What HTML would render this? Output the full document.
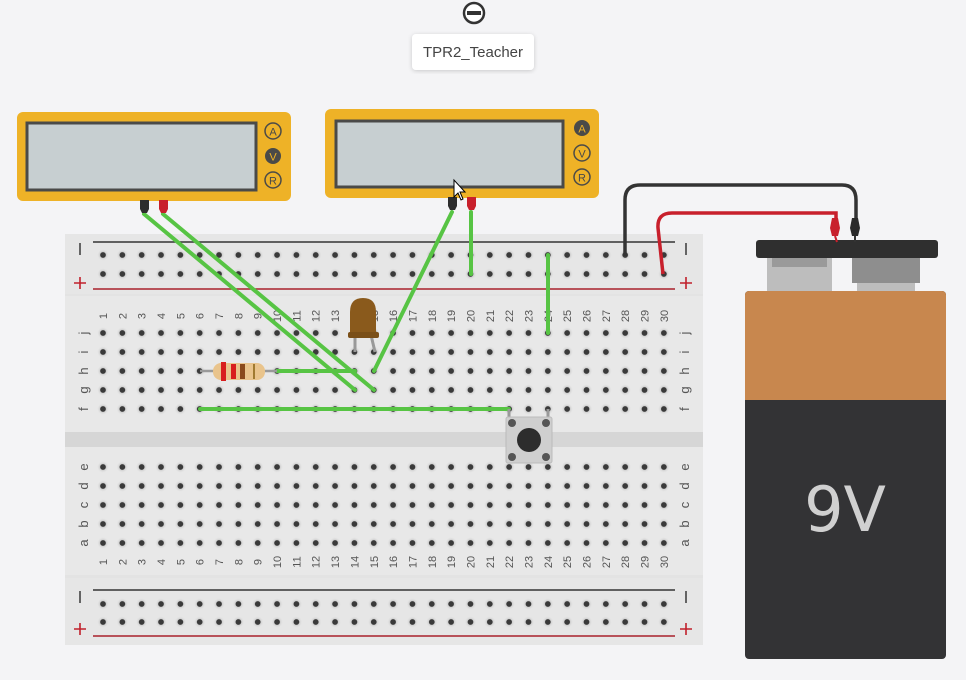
<!DOCTYPE html>
<html><head><meta charset="utf-8"><style>
html,body{margin:0;padding:0;background:#f4f4f6;}
svg{display:block;font-family:"Liberation Sans","DejaVu Sans",sans-serif;}
.n{font-size:11px;fill:#555;}
.l{font-size:13px;fill:#555;}
</style></head><body>
<svg width="966" height="680" viewBox="0 0 966 680" xmlns="http://www.w3.org/2000/svg">
<defs>
<radialGradient id="h"><stop offset="0.42" stop-color="#3a3a3a"/><stop offset="0.52" stop-color="#cfcfcf"/><stop offset="1" stop-color="#e4e4e4" stop-opacity="0"/></radialGradient>
<filter id="sh"><feDropShadow dx="0" dy="1" stdDeviation="2" flood-opacity="0.18"/></filter>
</defs>
<rect width="966" height="680" fill="#f4f4f6"/>

<!-- label -->
<circle cx="474" cy="13" r="10" fill="#fff" stroke="#333" stroke-width="2.5"/>
<rect x="467" y="11" width="14" height="4" fill="#333"/>
<rect x="412" y="34" width="122" height="36" rx="4" fill="#fff" filter="url(#sh)"/>
<text x="473" y="57" text-anchor="middle" font-size="15" fill="#444">TPR2_Teacher</text>

<!-- multimeter 1 -->
<rect x="17" y="112" width="274" height="89" rx="6" fill="#eeb227"/>
<rect x="27" y="123" width="229" height="67" fill="#c7cfd1" stroke="#4a4a48" stroke-width="3"/>
<circle cx="273" cy="131" r="8" fill="none" stroke="#4a4a48" stroke-width="1.5"/><text x="273" y="135.5" text-anchor="middle" font-size="11" fill="#4a4a48">A</text>
<circle cx="273" cy="156" r="8" fill="#4a4a48"/><text x="273" y="160.5" text-anchor="middle" font-size="11" fill="#eeb227">V</text>
<circle cx="273" cy="180" r="8" fill="none" stroke="#4a4a48" stroke-width="1.5"/><text x="273" y="184.5" text-anchor="middle" font-size="11" fill="#4a4a48">R</text>

<!-- multimeter 2 -->
<rect x="325" y="109" width="274" height="89" rx="6" fill="#eeb227"/>
<rect x="336" y="121" width="227" height="66" fill="#c7cfd1" stroke="#4a4a48" stroke-width="3"/>
<circle cx="582" cy="128" r="8" fill="#4a4a48"/><text x="582" y="132.5" text-anchor="middle" font-size="11" fill="#eeb227">A</text>
<circle cx="582" cy="153" r="8" fill="none" stroke="#4a4a48" stroke-width="1.5"/><text x="582" y="157.5" text-anchor="middle" font-size="11" fill="#4a4a48">V</text>
<circle cx="582" cy="177" r="8" fill="none" stroke="#4a4a48" stroke-width="1.5"/><text x="582" y="181.5" text-anchor="middle" font-size="11" fill="#4a4a48">R</text>

<!-- breadboard -->
<rect x="65" y="234" width="638" height="411" rx="4" fill="#e3e3e3"/>
<rect x="65" y="296" width="638" height="136" fill="#e8e8e8"/>
<rect x="65" y="432" width="638" height="15" fill="#d6d6d6"/>
<rect x="65" y="447" width="638" height="128" fill="#e8e8e8"/>
<rect x="65" y="234" width="638" height="60" fill="#e6e6e6"/>
<rect x="65" y="578" width="638" height="67" fill="#e6e6e6"/>
<line x1="93" y1="242" x2="675" y2="242" stroke="#333" stroke-width="1.5"/>
<line x1="93" y1="289" x2="675" y2="289" stroke="#a8202c" stroke-width="1.5"/>
<line x1="93" y1="590" x2="675" y2="590" stroke="#333" stroke-width="1.5"/>
<line x1="93" y1="636" x2="675" y2="636" stroke="#a8202c" stroke-width="1.5"/>
<g stroke-width="1.6">
<line x1="80" y1="243" x2="80" y2="255" stroke="#444"/>
<line x1="686" y1="243" x2="686" y2="255" stroke="#444"/>
<line x1="80" y1="591" x2="80" y2="603" stroke="#444"/>
<line x1="686" y1="591" x2="686" y2="603" stroke="#444"/>
<path d="M74 283 h12 M80 277 v12" stroke="#c0202c"/>
<path d="M680 283 h12 M686 277 v12" stroke="#c0202c"/>
<path d="M74 629 h12 M80 623 v12" stroke="#c0202c"/>
<path d="M680 629 h12 M686 623 v12" stroke="#c0202c"/>
</g>
<g id="holes"></g>
<g class="l" text-anchor="middle">
<text transform="translate(84,333) rotate(-90)" dy="4">j</text>
<text transform="translate(84,352) rotate(-90)" dy="4">i</text>
<text transform="translate(84,371) rotate(-90)" dy="4">h</text>
<text transform="translate(84,390) rotate(-90)" dy="4">g</text>
<text transform="translate(84,409) rotate(-90)" dy="4">f</text>
<text transform="translate(84,467) rotate(-90)" dy="4">e</text>
<text transform="translate(84,486) rotate(-90)" dy="4">d</text>
<text transform="translate(84,505) rotate(-90)" dy="4">c</text>
<text transform="translate(84,524) rotate(-90)" dy="4">b</text>
<text transform="translate(84,543) rotate(-90)" dy="4">a</text>
<text transform="translate(685,333) rotate(-90)" dy="4">j</text>
<text transform="translate(685,352) rotate(-90)" dy="4">i</text>
<text transform="translate(685,371) rotate(-90)" dy="4">h</text>
<text transform="translate(685,390) rotate(-90)" dy="4">g</text>
<text transform="translate(685,409) rotate(-90)" dy="4">f</text>
<text transform="translate(685,467) rotate(-90)" dy="4">e</text>
<text transform="translate(685,486) rotate(-90)" dy="4">d</text>
<text transform="translate(685,505) rotate(-90)" dy="4">c</text>
<text transform="translate(685,524) rotate(-90)" dy="4">b</text>
<text transform="translate(685,543) rotate(-90)" dy="4">a</text>
</g>
<g class="n" text-anchor="middle">
<text transform="translate(103,316) rotate(-90)" dy="4">1</text><text transform="translate(122.3,316) rotate(-90)" dy="4">2</text><text transform="translate(141.7,316) rotate(-90)" dy="4">3</text><text transform="translate(161,316) rotate(-90)" dy="4">4</text><text transform="translate(180.4,316) rotate(-90)" dy="4">5</text><text transform="translate(199.7,316) rotate(-90)" dy="4">6</text><text transform="translate(219,316) rotate(-90)" dy="4">7</text><text transform="translate(238.4,316) rotate(-90)" dy="4">8</text><text transform="translate(257.7,316) rotate(-90)" dy="4">9</text><text transform="translate(277.1,316) rotate(-90)" dy="4">10</text><text transform="translate(296.4,316) rotate(-90)" dy="4">11</text><text transform="translate(315.7,316) rotate(-90)" dy="4">12</text><text transform="translate(335.1,316) rotate(-90)" dy="4">13</text><text transform="translate(354.4,316) rotate(-90)" dy="4">14</text><text transform="translate(373.8,316) rotate(-90)" dy="4">15</text><text transform="translate(393.1,316) rotate(-90)" dy="4">16</text><text transform="translate(412.4,316) rotate(-90)" dy="4">17</text><text transform="translate(431.8,316) rotate(-90)" dy="4">18</text><text transform="translate(451.1,316) rotate(-90)" dy="4">19</text><text transform="translate(470.5,316) rotate(-90)" dy="4">20</text><text transform="translate(489.8,316) rotate(-90)" dy="4">21</text><text transform="translate(509.1,316) rotate(-90)" dy="4">22</text><text transform="translate(528.5,316) rotate(-90)" dy="4">23</text><text transform="translate(547.8,316) rotate(-90)" dy="4">24</text><text transform="translate(567.2,316) rotate(-90)" dy="4">25</text><text transform="translate(586.5,316) rotate(-90)" dy="4">26</text><text transform="translate(605.8,316) rotate(-90)" dy="4">27</text><text transform="translate(625.2,316) rotate(-90)" dy="4">28</text><text transform="translate(644.5,316) rotate(-90)" dy="4">29</text><text transform="translate(663.9,316) rotate(-90)" dy="4">30</text>
<text transform="translate(103,562) rotate(-90)" dy="4">1</text><text transform="translate(122.3,562) rotate(-90)" dy="4">2</text><text transform="translate(141.7,562) rotate(-90)" dy="4">3</text><text transform="translate(161,562) rotate(-90)" dy="4">4</text><text transform="translate(180.4,562) rotate(-90)" dy="4">5</text><text transform="translate(199.7,562) rotate(-90)" dy="4">6</text><text transform="translate(219,562) rotate(-90)" dy="4">7</text><text transform="translate(238.4,562) rotate(-90)" dy="4">8</text><text transform="translate(257.7,562) rotate(-90)" dy="4">9</text><text transform="translate(277.1,562) rotate(-90)" dy="4">10</text><text transform="translate(296.4,562) rotate(-90)" dy="4">11</text><text transform="translate(315.7,562) rotate(-90)" dy="4">12</text><text transform="translate(335.1,562) rotate(-90)" dy="4">13</text><text transform="translate(354.4,562) rotate(-90)" dy="4">14</text><text transform="translate(373.8,562) rotate(-90)" dy="4">15</text><text transform="translate(393.1,562) rotate(-90)" dy="4">16</text><text transform="translate(412.4,562) rotate(-90)" dy="4">17</text><text transform="translate(431.8,562) rotate(-90)" dy="4">18</text><text transform="translate(451.1,562) rotate(-90)" dy="4">19</text><text transform="translate(470.5,562) rotate(-90)" dy="4">20</text><text transform="translate(489.8,562) rotate(-90)" dy="4">21</text><text transform="translate(509.1,562) rotate(-90)" dy="4">22</text><text transform="translate(528.5,562) rotate(-90)" dy="4">23</text><text transform="translate(547.8,562) rotate(-90)" dy="4">24</text><text transform="translate(567.2,562) rotate(-90)" dy="4">25</text><text transform="translate(586.5,562) rotate(-90)" dy="4">26</text><text transform="translate(605.8,562) rotate(-90)" dy="4">27</text><text transform="translate(625.2,562) rotate(-90)" dy="4">28</text><text transform="translate(644.5,562) rotate(-90)" dy="4">29</text><text transform="translate(663.9,562) rotate(-90)" dy="4">30</text>
</g>

<!-- battery -->
<rect x="767" y="255" width="65" height="38" fill="#bdbdbd"/>
<rect x="772" y="255" width="55" height="12" fill="#9a9a9a"/>
<rect x="852" y="255" width="68" height="28" fill="#8e8e8e"/>
<rect x="857" y="283" width="58" height="10" fill="#bdbdbd"/>
<rect x="756" y="240" width="182" height="18" rx="3" fill="#2f2f2f"/>
<rect x="745" y="291" width="201" height="368" rx="4" fill="#333335"/>
<path d="M749 291 H942 A4 4 0 0 1 946 295 V400 H745 V295 A4 4 0 0 1 749 291Z" fill="#c8874e"/>
<text x="845" y="531" text-anchor="middle" font-size="62" fill="#d0d0d0" font-family="DejaVu Sans, sans-serif">9V</text>

<!-- battery wires -->
<path d="M625 256 V200 Q625 185 640 185 H842 Q856 185 856 200 V222" fill="none" stroke="#333" stroke-width="3.5"/>
<path d="M663 274 L658 228 Q657 213 672 213 H836 V222" fill="none" stroke="#c8202c" stroke-width="3.5"/>
<path d="M852 218 h6 l2 10 l-2 8 h-6 l-2 -8z" fill="#2a2a2a"/>
<path d="M832 218 h6 l2 10 l-2 8 h-6 l-2 -8z" fill="#c8202c"/>
<line x1="855" y1="236" x2="855" y2="242" stroke="#333" stroke-width="2"/>
<line x1="835" y1="236" x2="837" y2="242" stroke="#c8202c" stroke-width="2"/>

<!-- green wires -->
<g stroke="#57c444" stroke-width="4" stroke-linecap="round" fill="none">
<line x1="144" y1="214" x2="355" y2="390"/>
<line x1="163" y1="214" x2="374" y2="390"/>
<line x1="452" y1="212" x2="374" y2="371"/>
<line x1="471" y1="212" x2="471" y2="274"/>
<line x1="548" y1="255" x2="548" y2="333"/>
<line x1="277" y1="371" x2="355" y2="371"/>
<line x1="200" y1="409" x2="509" y2="409"/>
</g>
<!-- probes -->
<path d="M140 200 h9 v9 l-2 4 h-5 l-2 -4z" fill="#2d2d2d"/>
<path d="M159 200 h9 v9 l-2 4 h-5 l-2 -4z" fill="#c8202c"/>
<path d="M448 197 h9 v9 l-2 4 h-5 l-2 -4z" fill="#2d2d2d"/>
<path d="M467 197 h9 v9 l-2 4 h-5 l-2 -4z" fill="#c8202c"/>

<!-- resistor -->
<line x1="200" y1="371" x2="277" y2="371" stroke="#999" stroke-width="2.5"/>
<rect x="213" y="363" width="52" height="17" rx="8" fill="#e9c48c"/>
<rect x="221" y="362" width="5" height="19" fill="#d81e1e"/>
<rect x="231" y="364" width="5" height="15" fill="#d81e1e"/>
<rect x="240" y="364" width="5" height="15" fill="#8a4a1c"/>
<rect x="253" y="364" width="2" height="15" fill="#a07a30"/>

<!-- LED -->
<line x1="355" y1="335" x2="355" y2="352" stroke="#999" stroke-width="3"/>
<path d="M371 335 L375 352" stroke="#999" stroke-width="3"/>
<path d="M350 338 V312 Q350 298 363 298 Q376 298 376 312 V338Z" fill="#8a5a1c"/>
<rect x="348" y="332" width="31" height="6" rx="2" fill="#7a4f18"/>

<!-- button -->
<line x1="509" y1="409" x2="509" y2="420" stroke="#999" stroke-width="3"/>
<line x1="548" y1="409" x2="548" y2="420" stroke="#999" stroke-width="3"/>
<rect x="506" y="417" width="46" height="46" rx="2" fill="#cfcfcf" stroke="#bbb"/>
<circle cx="512" cy="423" r="4" fill="#555"/><circle cx="546" cy="423" r="4" fill="#555"/>
<circle cx="512" cy="457" r="4" fill="#555"/><circle cx="546" cy="457" r="4" fill="#555"/>
<circle cx="529" cy="440" r="12" fill="#2d2d2d"/>

<!-- cursor -->
<path d="M454 180 L454 197 L458 193 L461 200 L463 199 L460 192 L465 192 Z" fill="#fff" stroke="#000" stroke-width="1"/>
</svg>
<script>
var g=document.getElementById('holes'),s='';
function x(n){return 103+19.34*(n-1);}
var ry=[255,274,604,622,333,352,371,390,409,467,486,505,524,543];
for(var r=0;r<ry.length;r++)for(var c=1;c<=30;c++){
s+='<circle cx="'+x(c)+'" cy="'+ry[r]+'" r="6" fill="url(#h)"/>';}
g.innerHTML=s;
</script>
</body></html>
